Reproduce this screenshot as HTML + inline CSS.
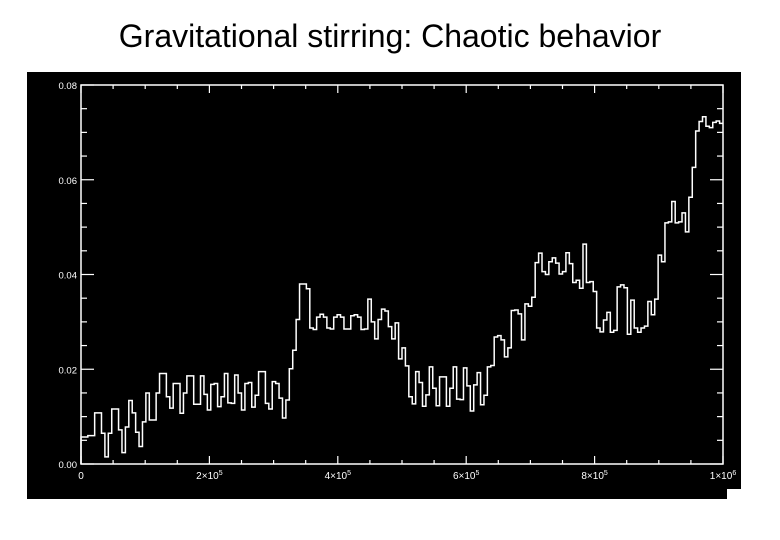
<!DOCTYPE html>
<html><head><meta charset="utf-8">
<style>
html,body{margin:0;padding:0;background:#fff;}
body{width:780px;height:540px;overflow:hidden;position:relative;font-family:"Liberation Sans",sans-serif;}
#title{position:absolute;left:0;width:780px;top:18px;text-align:center;font-size:32px;color:#000;}
svg{position:absolute;left:0;top:0;}
</style></head>
<body>
<div id="title">Gravitational stirring: Chaotic behavior</div>
<svg id="chart" width="780" height="540"></svg>
<script>
const xTickValues = [0, 200000, 400000, 600000, 800000, 1000000];
const xTickLabels = ["0", "2×10^5", "4×10^5", "6×10^5", "8×10^5", "1×10^6"];
const yTickValues = [0, 0.02, 0.04, 0.06, 0.08];
const yTickLabels = ["0.00", "0.02", "0.04", "0.06", "0.08"];
const seriesValues = [
0.0057,0.0057,0.006,0.006,0.0108,0.0108,0.0065,0.0015,0.0065,0.0116,0.0116,0.0072,0.0024,0.0078,0.0134,0.0108,0.0067,0.0037,0.0089,0.015,0.0093,0.0093,0.015,0.0191,0.0191,0.0142,0.0118,0.017,0.017,0.0107,0.015,0.0186,0.0186,0.0126,0.0126,0.0186,0.0147,0.0114,0.0168,0.017,0.0121,0.0142,0.0191,0.0129,0.0128,0.0188,0.015,0.0114,0.017,0.0172,0.012,0.0145,0.0195,0.0195,0.0128,0.0116,0.0174,0.017,0.0139,0.0097,0.0135,0.0201,0.024,0.0305,
0.038,0.038,0.037,0.0287,0.0284,0.031,0.0316,0.031,0.0287,0.0285,0.031,0.0315,0.031,0.0285,0.0285,0.0313,0.0315,0.031,0.0284,0.0285,0.0348,0.03,0.0264,0.0305,0.0327,0.0323,0.029,0.0264,0.0298,0.0222,0.0245,0.0207,0.0142,0.0127,0.0195,0.0172,0.0122,0.0146,0.0205,0.016,0.0123,0.0184,0.0184,0.0122,0.016,0.0205,0.0137,0.0136,0.0203,0.0165,0.0112,0.0167,0.0193,0.0125,0.0145,0.0205,0.0208,0.0268,0.0271,0.0262,0.0226,0.0245,0.0324,0.0325,0.0317,
0.0262,0.0338,0.0333,0.0352,0.0425,0.0445,0.0406,0.04,0.0427,0.0435,0.0424,0.0401,0.0406,0.0446,0.0423,0.0383,0.0388,0.0371,0.0464,0.0383,0.0385,0.0364,0.0287,0.0279,0.0304,0.032,0.0278,0.0282,0.0374,0.0378,0.0372,0.0274,0.0346,0.0287,0.0278,0.0287,0.0291,0.0343,0.0315,0.0348,0.0441,0.0427,0.0509,0.0511,0.0554,0.0509,0.0511,0.053,0.049,0.0563,0.0626,0.0703,0.0723,0.0733,0.0713,0.071,0.0721,0.0724,0.0719
];
const xMax = 1000000;

const NS = "http://www.w3.org/2000/svg";
const svg = document.getElementById('chart');
const L = 81, R = 723, T = 85, B = 464;
function xs(v){ return L + (v / xMax) * (R - L); }
function ys(v){ return B - (v / 0.08) * (B - T); }
function mk(tag, attrs){
  const e = document.createElementNS(NS, tag);
  for (const k in attrs) e.setAttribute(k, attrs[k]);
  svg.appendChild(e);
  return e;
}

const bg = mk('rect', {x:27, y:72, width:714, height:427, fill:'#000'});


const grip = mk('rect', {x:727, y:489, width:14, height:10, fill:'#fff'});



const frame = mk('rect', {x:L, y:T, width:R-L, height:B-T, fill:'none', stroke:'#fff', 'stroke-width':1.5});



for (let v = 0; v <= xMax + 1; v += 50000) {
  const major = (v % 200000) === 0;
  const len = major ? 8 : 4;
  const x = xs(v);
  const t1 = mk('line', {x1:x, y1:B, x2:x, y2:B-len, stroke:'#fff', 'stroke-width':1.2});
  
  
  const t2 = mk('line', {x1:x, y1:T, x2:x, y2:T+len, stroke:'#fff', 'stroke-width':1.2});
  
  
}
for (let i = 0; i <= 16; i++) {
  const v = i * 0.005;
  const major = (i % 4) === 0;
  const len = major ? 13 : 6;
  const y = ys(v);
  const t1 = mk('line', {x1:L, y1:y, x2:L+len, y2:y, stroke:'#fff', 'stroke-width':1.2});
  
  
  const t2 = mk('line', {x1:R, y1:y, x2:R-len, y2:y, stroke:'#fff', 'stroke-width':1.2});
  
  
}
yTickValues.forEach((v, i) => {
  const t = mk('text', {x:77, y:ys(v)+4, fill:'#fff', 'font-size':9.5, 'text-anchor':'end', 'font-family':'Liberation Sans, sans-serif'});
  t.textContent = yTickLabels[i];
  
  
});
xTickValues.forEach((v, i) => {
  const lab = xTickLabels[i];
  const t = mk('text', {x:xs(v), y:479, fill:'#fff', 'font-size':10, 'text-anchor':'middle', 'font-family':'Liberation Sans, sans-serif'});
  if (lab.indexOf('^') >= 0) {
    const parts = lab.split('^');
    const s1 = document.createElementNS(NS, 'tspan'); s1.textContent = parts[0];
    const s2 = document.createElementNS(NS, 'tspan'); s2.textContent = parts[1];
    s2.setAttribute('dy', '-4'); s2.setAttribute('font-size', '7');
    t.appendChild(s1); t.appendChild(s2);
  } else {
    t.textContent = lab;
  }
  
  
});

const n = seriesValues.length;
const dx = xMax / n;
let d = 'M' + xs(0) + ',' + ys(0);
for (let i = 0; i < n; i++) {
  const y = ys(seriesValues[i]);
  d += ' L' + xs(i*dx).toFixed(2) + ',' + y.toFixed(2) + ' L' + xs((i+1)*dx).toFixed(2) + ',' + y.toFixed(2);
}
const path = mk('path', {d:d, fill:'none', stroke:'#fff', 'stroke-width':1.5});


</script>
</body></html>
